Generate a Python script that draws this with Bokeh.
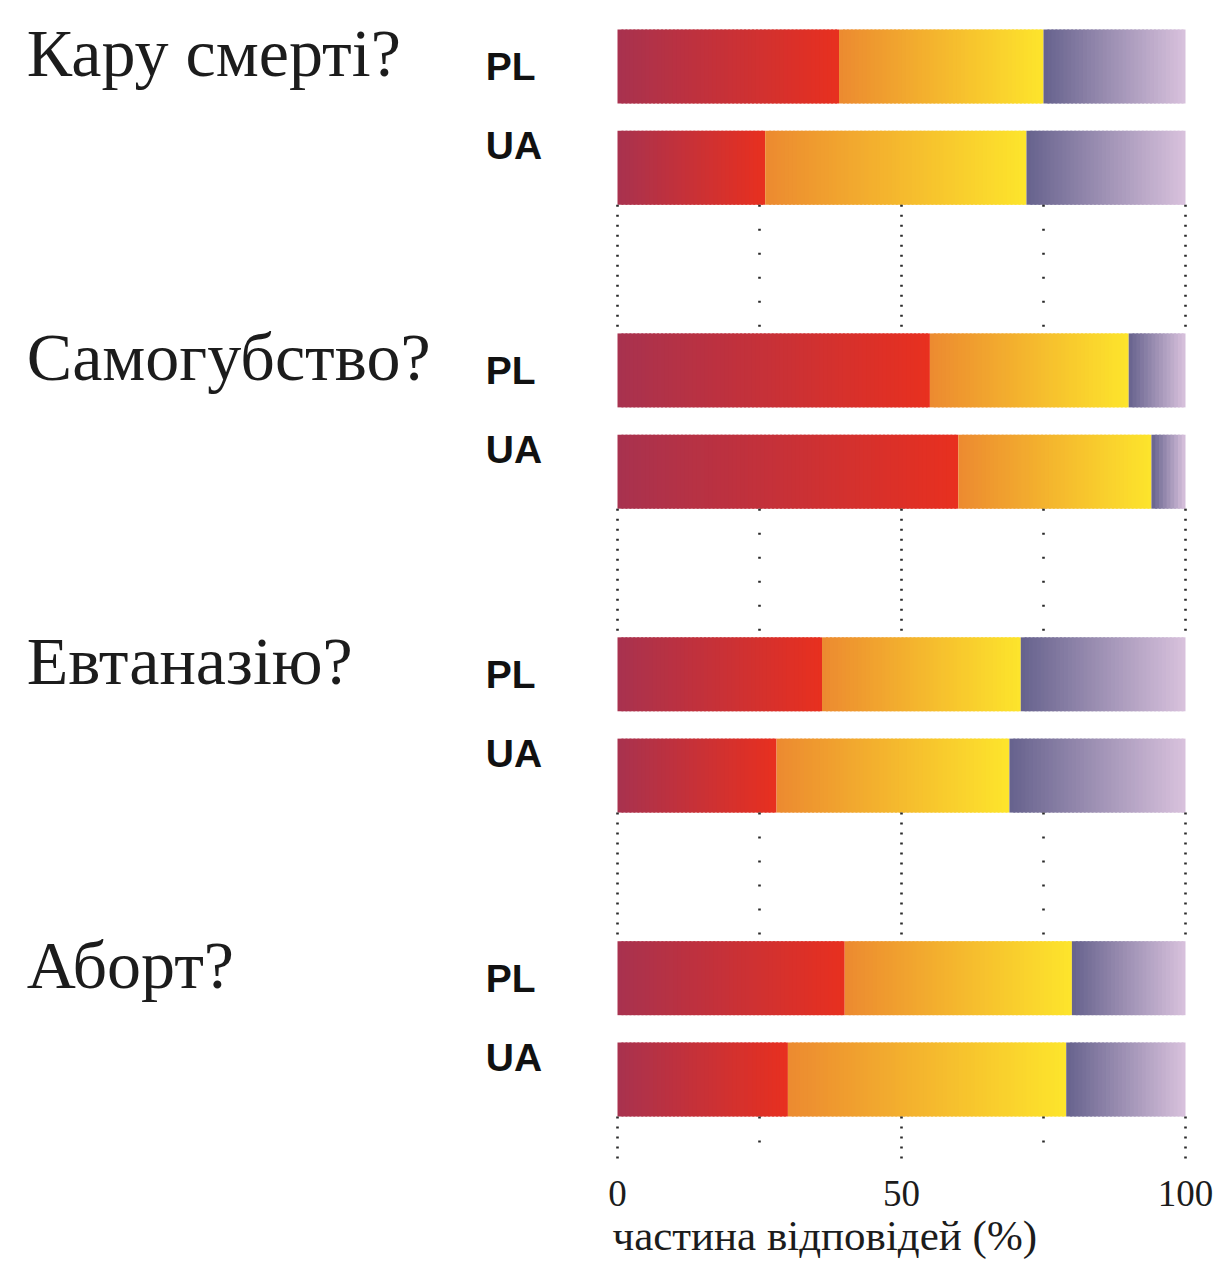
import math
from bokeh.plotting import figure
from bokeh.models import Range1d, LinearAxis, FixedTicker, Title
from bokeh.core.properties import value
from bokeh.embed import file_html
from bokeh.resources import INLINE

# ---------------- data ----------------
questions = ["Кару смерті?", "Самогубство?", "Евтаназію?", "Аборт?"]
countries = ["PL", "UA"]
# one value per (question, country): PL, UA, PL, UA, ...
share_red = [39, 26, 55, 60, 36, 28, 40, 30]
share_yellow = [36, 46, 35, 34, 35, 41, 40, 49]
share_violet = [25, 28, 10, 6, 29, 31, 20, 21]
x_ticks = [0, 50, 100]
grid_major = [0, 50, 100]
grid_minor = [25, 75]
axis_title = "частина відповідей (%)"

# ---------------- styling ----------------
gradients = [("#a8324f", "#e8301f"), ("#ec8a30", "#fde52c"), ("#66628d", "#d9c2dd")]
BAR_H = 0.73
PX_PER_ROW = 101.3
FIG_W, FIG_H = 1220, 1270
BOTTOM_BORDER = 109
FRAME_H = FIG_H - BOTTOM_BORDER
X0_PX, PX_PER_UNIT = 617, 5.68
ROW0_PX = 66


def hex2rgb(h):
    h = h.lstrip("#")
    return tuple(int(h[i:i + 2], 16) for i in (0, 2, 4))


def lerp(c1, c2, t):
    a, b = hex2rgb(c1), hex2rgb(c2)
    return "#%02x%02x%02x" % tuple(int(round(a[i] + (b[i] - a[i]) * t)) for i in range(3))


def row_of(i_bar):
    return 3 * (i_bar // 2) + (i_bar % 2)


y_top = -ROW0_PX / PX_PER_ROW
y_bot = (FRAME_H - ROW0_PX) / PX_PER_ROW
x_start = -X0_PX / PX_PER_UNIT
x_end = (FIG_W - X0_PX) / PX_PER_UNIT

p = figure(width=FIG_W, height=FIG_H,
           x_range=Range1d(x_start, x_end), y_range=Range1d(y_bot, y_top),
           output_backend="svg", toolbar_location=None,
           min_border_left=0, min_border_right=0, min_border_top=0,
           min_border_bottom=BOTTOM_BORDER,
           x_axis_location=None, y_axis_location=None)
p.xgrid.visible = False
p.ygrid.visible = False
p.outline_line_color = None
p.background_fill_color = "white"
p.border_fill_color = "white"

# ---------------- gradient stacked bars ----------------
lefts, rights, ys, cols = [], [], [], []
for b in range(len(share_red)):
    start = 0.0
    for seg, vals in enumerate([share_red, share_yellow, share_violet]):
        w = vals[b]
        c1, c2 = gradients[seg]
        n = max(3, math.ceil(w * PX_PER_UNIT / 4))
        for k in range(n):
            l = start + w * k / n
            r = start + w * (k + 1) / n
            if k < n - 1:
                r += w / n * 0.5
            lefts.append(l)
            rights.append(r)
            ys.append(row_of(b))
            cols.append(lerp(c1, c2, (k + 0.5) / n))
        start += w

p.hbar(y=ys, left=lefts, right=rights, height=BAR_H, fill_color=cols, line_color=None)

# ---------------- dotted grid in gaps between groups ----------------
n_groups = len(questions)
for g in range(n_groups):
    y0 = 3 * g + 1 + BAR_H / 2
    y1 = 3 * (g + 1) - BAR_H / 2 if g < n_groups - 1 else y_bot
    p.segment(x0=grid_major, x1=grid_major, y0=[y0] * len(grid_major), y1=[y1] * len(grid_major),
              line_color="#2a2a2a", line_width=2.6, line_dash="2 8")
    p.segment(x0=grid_minor, x1=grid_minor, y0=[y0] * len(grid_minor), y1=[y1] * len(grid_minor),
              line_color="#2a2a2a", line_width=2.6, line_dash="2 22")

# ---------------- question labels ----------------
p.text(x=[-104.0] * n_groups, y=[3 * g - 0.13 for g in range(n_groups)], text=questions,
       text_font=value("Liberation Serif"), text_font_size="68px",
       text_baseline="middle", text_align="left", text_color="#1c1c1c")

# ---------------- country labels ----------------
c_text, c_y = [], []
for b in range(len(share_red)):
    c_text.append(countries[b % 2])
    c_y.append(row_of(b) - (0.0 if b % 2 == 0 else 0.22))
p.text(x=[-23.2] * len(c_text), y=c_y, text=c_text,
       text_font=value("Liberation Sans"), text_font_style="bold", text_font_size="39px",
       text_baseline="middle", text_align="left", text_color="#111111")

# ---------------- x axis ----------------
ax = LinearAxis(ticker=FixedTicker(ticks=x_ticks), bounds=(0, 100))
ax.axis_line_color = None
ax.major_tick_line_color = None
ax.minor_tick_line_color = None
ax.major_label_text_font = "Liberation Serif"
ax.major_label_text_font_size = "37px"
ax.major_label_text_color = "#1c1c1c"
ax.major_label_standoff = 13
p.add_layout(ax, "below")

# axis title, left-aligned near 0 (placed below the axis)
t = Title(text=axis_title, align="left", offset=X0_PX - 5,
          text_font="Liberation Serif", text_font_size="43px", text_font_style="normal",
          text_color="#1c1c1c", standoff=3)
p.add_layout(t, "below")

open("out.html", "w").write(file_html(p, INLINE))
